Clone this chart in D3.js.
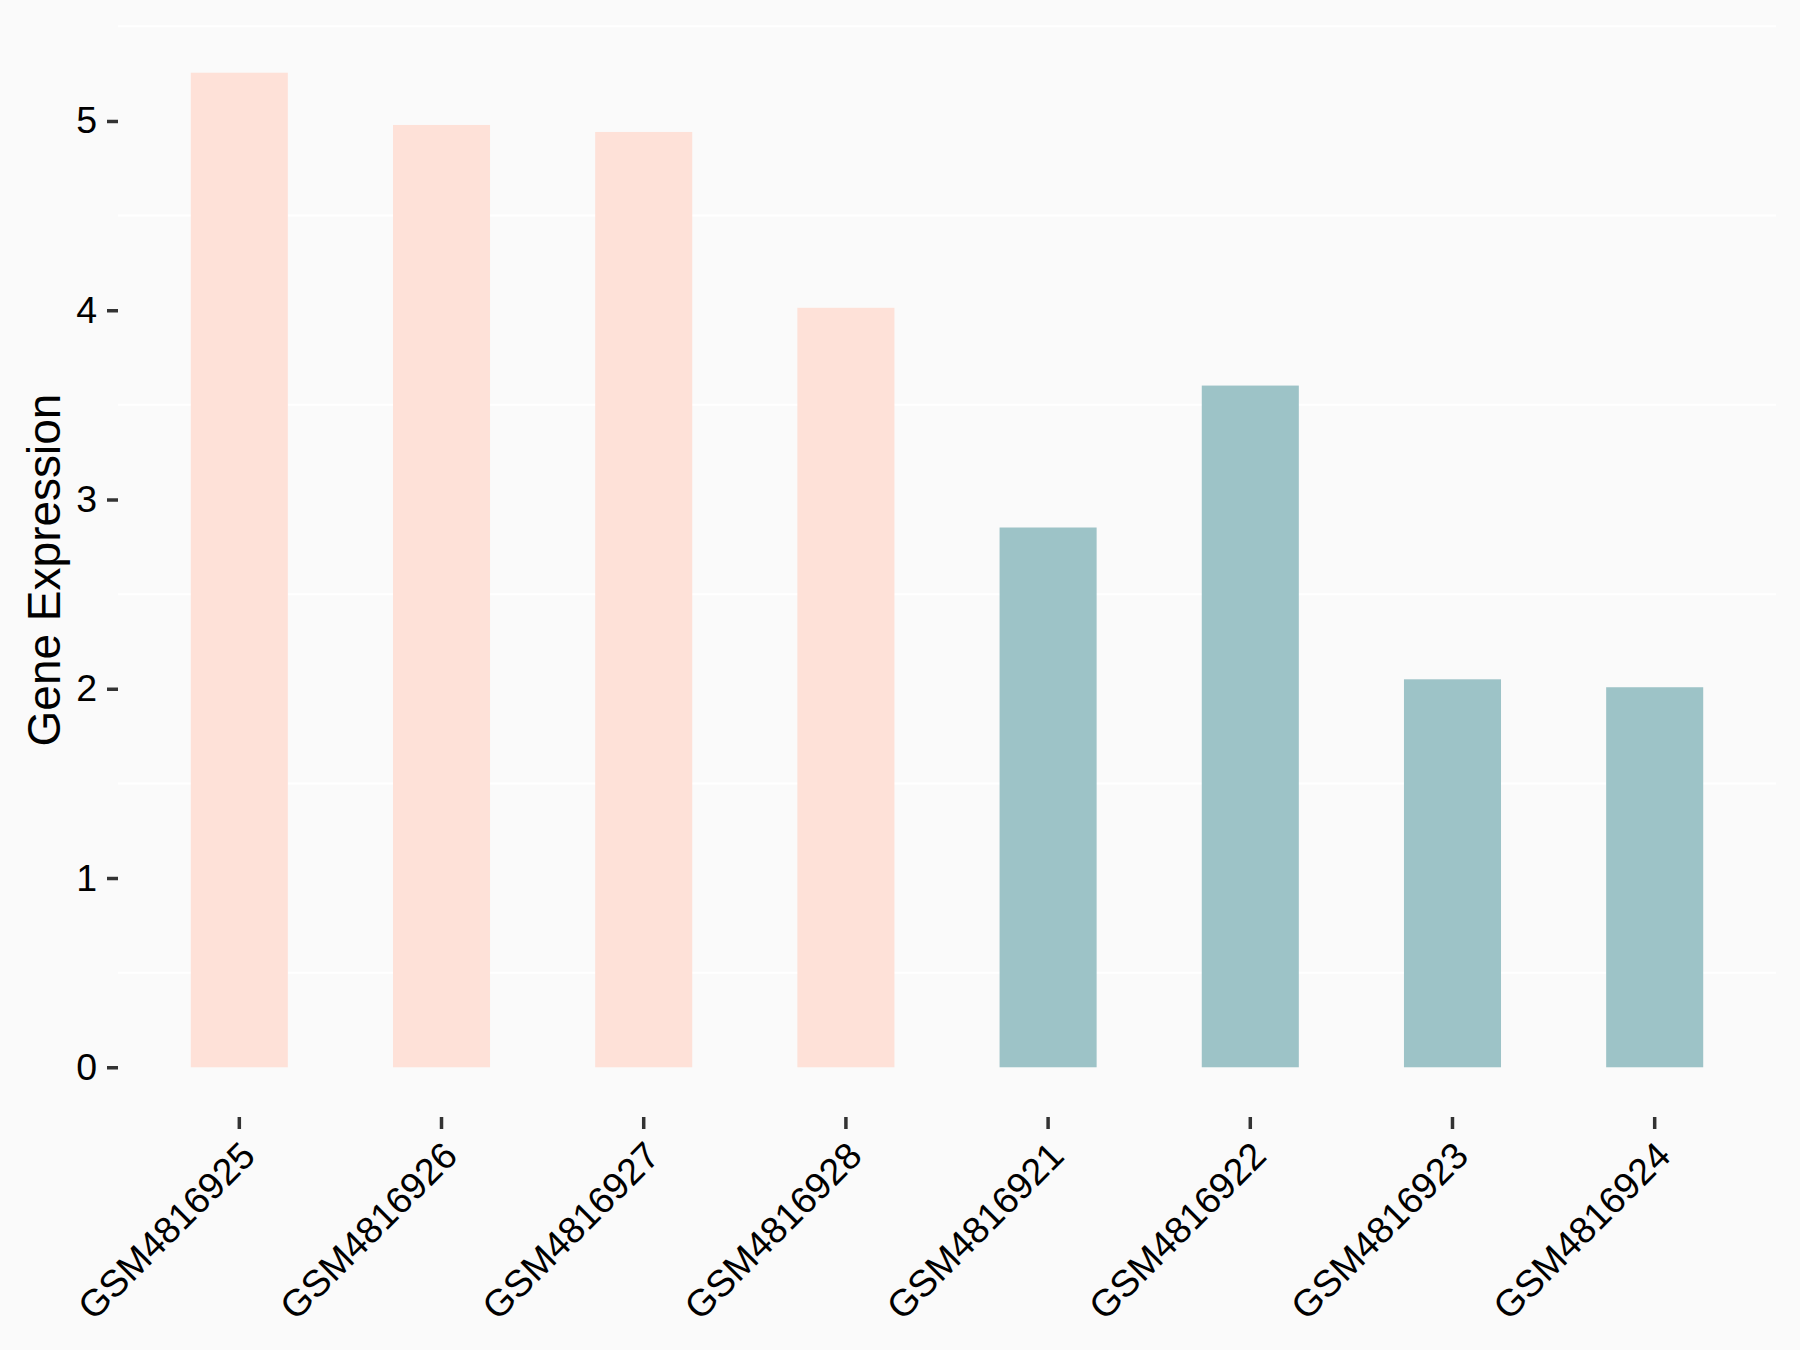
<!DOCTYPE html>
<html>
<head>
<meta charset="utf-8">
<script src="https://cdn.jsdelivr.net/npm/d3@7"></script>
<style>
  html, body { margin: 0; padding: 0; background: #FAFAFA; }
  svg { display: block; }
  text { font-family: "Liberation Sans", Arial, sans-serif; }
</style>
</head>
<body>
<svg id="chart" width="1800" height="1350"></svg>
<script>
const samples = ["GSM4816925","GSM4816926","GSM4816927","GSM4816928","GSM4816921","GSM4816922","GSM4816923","GSM4816924"];
const expression = [5.255, 4.979, 4.942, 4.013, 2.852, 3.602, 2.050, 2.008];
const groups = ["A","A","A","A","B","B","B","B"];
const groupColors = {A: "#FEE1D8", B: "#9DC3C7"};
const yTicks = [0, 1, 2, 3, 4, 5];
const yMinor = [0.5, 1.5, 2.5, 3.5, 4.5, 5.5];
const yTitle = "Gene Expression";

const svg = d3.select("#chart");
svg.append("rect").attr("width", 1800).attr("height", 1350).attr("fill", "#FAFAFA");

const panel = {left: 118, right: 1776, top: 23, bottom: 1117};

const x = d3.scaleBand().domain(samples).range([panel.left, panel.right])
  .paddingInner(0.52).paddingOuter(0.36);
const yMax = d3.max(expression);
const yExp = yMax * 0.05;
const y = d3.scaleLinear().domain([-yExp, yMax + yExp]).range([panel.bottom, panel.top]);

// minor gridlines
svg.append("g").selectAll("line").data(yMinor).join("line")
  .attr("x1", panel.left).attr("x2", panel.right)
  .attr("y1", d => y(d)).attr("y2", d => y(d))
  .attr("stroke", "#FFFFFF").attr("stroke-width", 2);

// bars
svg.append("g").selectAll("rect").data(samples).join("rect")
  .attr("x", d => x(d))
  .attr("width", x.bandwidth())
  .attr("y", (d, i) => y(expression[i]))
  .attr("height", (d, i) => y(0) - y(expression[i]))
  .attr("fill", (d, i) => groupColors[groups[i]]);

// y axis
const yAxis = svg.append("g").attr("transform", `translate(${panel.left},0)`)
  .call(d3.axisLeft(y).tickValues(yTicks).tickSize(11).tickPadding(10).tickFormat(d3.format("d")));
yAxis.select(".domain").remove();
yAxis.selectAll(".tick line").attr("stroke", "#333333").attr("stroke-width", 3.5);
yAxis.selectAll(".tick text").attr("fill", "#000").attr("font-size", 37.5)
  .attr("font-family", "'Liberation Sans', Arial, sans-serif");

// x axis
const xAxis = svg.append("g").attr("transform", `translate(0,${panel.bottom})`)
  .call(d3.axisBottom(x).tickSize(12).tickFormat(d => d));
xAxis.select(".domain").remove();
xAxis.selectAll(".tick line").attr("stroke", "#333333").attr("stroke-width", 3.5);
xAxis.selectAll(".tick text")
  .attr("fill", "#000").attr("font-size", 37.5)
  .attr("font-family", "'Liberation Sans', Arial, sans-serif")
  .attr("text-anchor", "end")
  .attr("dy", null)
  .attr("y", null)
  .attr("transform", "translate(18,41) rotate(-45)");

// y title
svg.append("text")
  .attr("transform", `translate(60,${(panel.top + panel.bottom) / 2}) rotate(-90)`)
  .attr("text-anchor", "middle")
  .attr("font-size", 46)
  .attr("fill", "#000")
  .text(yTitle);
</script>
</body>
</html>
